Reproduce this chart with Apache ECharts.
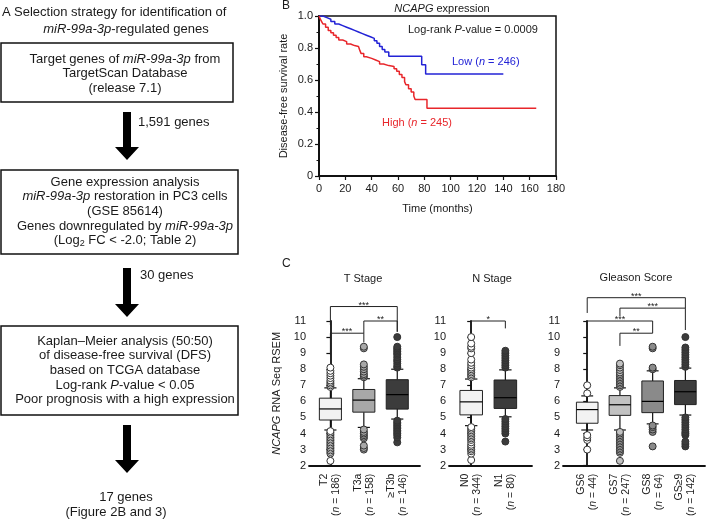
<!DOCTYPE html>
<html><head><meta charset="utf-8">
<script src="https://cdn.jsdelivr.net/npm/echarts@6/dist/echarts.min.js"></script>
<style>html,body{margin:0;padding:0;background:#fff}#c{width:709px;height:519px}</style>
</head><body><div id="c"></div>
<script>
// ---------- Panel B: Kaplan-Meier data ----------
const lowTimes  = [0,3,6,9,12,15,18,21,24,27,30,33,36,39,42,44,46,48,50,53,78,81,140];
const lowSurv   = [1.0,0.99,0.98,0.965,0.95,0.94,0.93,0.92,0.91,0.90,0.89,0.88,0.87,0.86,0.845,0.83,0.81,0.79,0.775,0.748,0.695,0.638,0.638];
const highTimes = [0,1,2,3,5,7,9,11,13,15,18,21,24,27,30,31,32,34,36,40,43,46,49,53,57,59,61,63,65,66,68,70,72,73,82,165];
const highSurv  = [1.0,0.98,0.965,0.95,0.93,0.91,0.895,0.88,0.865,0.85,0.84,0.825,0.815,0.81,0.80,0.785,0.765,0.745,0.735,0.725,0.715,0.70,0.69,0.685,0.67,0.655,0.635,0.615,0.59,0.57,0.545,0.525,0.50,0.478,0.423,0.423];
const kmXTicks = [0,20,40,60,80,100,120,140,160,180];

// ---------- Panel C: box plot data ----------
// [lower whisker, Q1, median, Q3, upper whisker]
const tCats = ['T2','T3a','\u2265T3b'];
const tN = [186,158,146];
const tStats = [[4.22,4.84,5.53,6.2,6.84],[4.38,5.33,6.08,6.74,7.41],[4.9,5.52,6.42,7.35,8.0]];
const t2Out  = [2.3,2.75,2.85,2.95,3.05,3.15,3.25,3.35,3.45,3.55,3.65,3.75,3.85,3.95,4.05,4.15,6.9,7.0,7.1,7.2,7.3,7.45,7.6,7.75,7.9,8.1];
const t3aOut = [3.0,3.1,3.25,3.7,3.8,3.9,4.0,4.1,4.25,7.5,7.6,7.7,7.85,8.0,8.15,8.3,9.3,9.4];
const t3bOut = [3.45,3.75,3.9,4.0,4.1,4.2,4.3,4.4,4.5,4.6,4.7,4.8,8.1,8.2,8.35,8.5,8.6,8.75,8.9,9.0,9.1,9.2,9.3,9.4,10.0];

const nCats = ['N0','N1'];
const nN = [344,80];
const nStats = [[4.49,5.16,5.97,6.68,7.39],[5.04,5.56,6.23,7.33,7.96]];
const n0Out = [2.35,2.75,2.9,3.0,3.1,3.2,3.3,3.45,3.6,3.7,3.8,3.9,4.0,4.1,4.2,4.3,4.4,7.5,7.6,7.7,7.8,7.9,8.0,8.1,8.25,8.4,8.6,9.0,9.3,9.4,9.6,10.0];
const n1Out = [3.5,4.0,4.15,4.3,4.45,4.6,4.75,4.9,8.1,8.25,8.4,8.55,8.7,8.85,9.0,9.15];

const gCats = ['GS6','GS7','GS8','GS\u22659'];
const gN = [44,247,64,142];
const gStats = [[4.22,4.64,5.49,5.95,6.34],[4.22,5.13,5.79,6.36,6.84],[4.6,5.3,6.0,7.27,7.9],[5.15,5.8,6.6,7.3,8.07]];
const gs6Out = [3.0,3.6,3.75,3.9,6.5,7.0];
const gs7Out = [2.3,2.8,2.9,3.0,3.1,3.2,3.3,3.4,3.5,3.6,3.7,3.8,3.9,4.0,4.1,6.9,7.0,7.1,7.2,7.3,7.4,7.5,7.6,7.7,7.8,7.95,8.1,8.25,8.35];
const gs8Out = [3.2,4.1,4.25,4.4,4.5,8.0,8.1,9.3,9.4];
const gs9Out = [3.2,3.35,3.5,3.9,4.0,4.1,4.25,4.4,4.55,4.7,4.85,5.0,8.15,8.3,8.45,8.6,8.75,8.9,9.05,9.2,9.35,10.0];

// significance brackets: [groupA, groupB, top, legA end, legB end]
const tBrackets = [[0,1,10.24,8.9,9.67],[1,2,11.0,10.24,10.33],[0,2,11.9,10.75,10.33]];
const tStars = ['***','**','***'];
const nBrackets = [[0,1,11.0,10.24,10.54]];
const nStars = ['*'];
const gBrackets = [[0,2,11.0,9.0,10.24],[1,2,10.24,9.45,10.24],[1,3,11.8,11.3,10.44],[0,3,12.45,11.5,11.8]];
const gStars = ['***','**','***','***'];

// ---------- Panel A text ----------
const box1Lines = ['Target genes of {i|miR-99a-3p} from','TargetScan Database','(release 7.1)'];
const box2Lines = ['Gene expression analysis','{i|miR-99a-3p} restoration in PC3 cells','(GSE 85614)','Genes downregulated by {i|miR-99a-3p}','(Log{s|2} FC < -2.0; Table 2)'];
const box3Lines = ['Kaplan\u2013Meier analysis (50:50)','of disease-free survival (DFS)','based on TCGA database','Log-rank {i|P}-value < 0.05','Poor prognosis with a high expression'];

const F = '"Liberation Sans", Arial, Helvetica, sans-serif';
const INK = '#1a1a1a';
const BLUE = '#2323d6';
const RED = '#e8262b';

const chart = echarts.init(document.getElementById('c'), null, {renderer:'canvas'});

function richFor(size, color){
  return {
    i:{fontStyle:'italic', fontSize:size, fontFamily:F, color:color, fill:color},
    a:{fontSize:size, fontFamily:F, color:color, fill:color},
    s:{fontSize:size-4, fontFamily:F, color:color, fill:color, verticalAlign:'bottom', padding:[6,0,0,0]}
  };
}

function txt(x, y, text, opts){
  opts = opts || {};
  const size = opts.size || 13;
  const color = opts.color || INK;
  return {type:'text', x:x, y:y, silent:true, z:10,
    style:{text:text, fontSize:size, fontFamily:F, fill:color,
      align:opts.align || 'center', verticalAlign:'middle', rich:richFor(size,color)}};
}

// ---------- graphic (panel A + annotations) ----------
const graphic = [];
graphic.push(txt(2,12,'A',{align:'left'}));
graphic.push(txt(14,12,'Selection strategy for identification of',{align:'left'}));
graphic.push(txt(126,29,'{i|miR-99a-3p}-regulated genes'));
const boxes = [[1,43,232,59,box1Lines,59],[1,170,237,84,box2Lines,182],[1,326,237,89,box3Lines,341]];
boxes.forEach(b => {
  graphic.push({type:'rect', shape:{x:b[0],y:b[1],width:b[2],height:b[3]}, style:{fill:'#fff',stroke:'#111',lineWidth:1.5}, z:5});
  b[4].forEach((l,i)=>graphic.push(txt(125, b[5]+i*14.7, l)));
});
function arrow(y0,y1){
  const cx=127, sw=4, hw=12, hl=13;
  return {type:'polygon', z:5, shape:{points:[[cx-sw,y0],[cx+sw,y0],[cx+sw,y1-hl],[cx+hw,y1-hl],[cx,y1],[cx-hw,y1-hl],[cx-sw,y1-hl]]}, style:{fill:'#000'}};
}
graphic.push(arrow(112,160));
graphic.push(arrow(268,317));
graphic.push(arrow(425,473));
graphic.push(txt(138,122,'1,591 genes',{align:'left'}));
graphic.push(txt(140,275,'30 genes',{align:'left'}));
graphic.push(txt(126,497,'17 genes'));
graphic.push(txt(116,512,'(Figure 2B and 3)'));

// panel B / C annotations
graphic.push(txt(282,6,'B',{align:'left',size:12}));
graphic.push(txt(442,9,'{i|NCAPG} expression',{size:11}));
graphic.push(txt(408,30,'Log-rank {i|P}-value = 0.0009',{align:'left',size:11}));
graphic.push(txt(452,62,'Low ({i|n} = 246)',{align:'left',size:11,color:BLUE}));
graphic.push(txt(382,123,'High ({i|n} = 245)',{align:'left',size:11,color:RED}));
graphic.push(txt(282,264,'C',{align:'left',size:12}));
graphic.push(txt(363,279,'T Stage',{size:11}));
graphic.push(txt(492,279,'N Stage',{size:11}));
graphic.push(txt(636,278,'Gleason Score',{size:11}));

// ---------- helpers for box plots ----------
function boxRender(fills){
  return function(params, api){
    const i = api.value(0);
    const lo = api.coord([i, api.value(1)]);
    const q1 = api.coord([i, api.value(2)]);
    const md = api.coord([i, api.value(3)]);
    const q3 = api.coord([i, api.value(4)]);
    const hi = api.coord([i, api.value(5)]);
    const bw = api.size([1,0])[0]*0.66;
    const cw = bw*0.55;
    const x = lo[0];
    const ls = {stroke:'#111', lineWidth:1.2};
    return {type:'group', children:[
      {type:'line', shape:{x1:x,y1:hi[1],x2:x,y2:q3[1]}, style:ls},
      {type:'line', shape:{x1:x,y1:q1[1],x2:x,y2:lo[1]}, style:ls},
      {type:'line', shape:{x1:x-cw/2,y1:hi[1],x2:x+cw/2,y2:hi[1]}, style:ls},
      {type:'line', shape:{x1:x-cw/2,y1:lo[1],x2:x+cw/2,y2:lo[1]}, style:ls},
      {type:'rect', shape:{x:x-bw/2,y:q3[1],width:bw,height:q1[1]-q3[1]}, style:{fill:fills[params.dataIndex], stroke:'#222', lineWidth:1}},
      {type:'line', shape:{x1:x-bw/2,y1:md[1],x2:x+bw/2,y2:md[1]}, style:{stroke:'#000',lineWidth:1.2}}
    ]};
  };
}
function bracketRender(stars){
  return function(params, api){
    const a = api.value(0), b = api.value(1), top = api.value(2);
    const pa = api.coord([a, api.value(3)]);
    const pat = api.coord([a, top]);
    const pbt = api.coord([b, top]);
    const pb = api.coord([b, api.value(4)]);
    return {type:'group', children:[
      {type:'polyline', shape:{points:[pa,pat,pbt,pb]}, style:{stroke:'#222', lineWidth:1, fill:null}},
      {type:'text', style:{text:stars[params.dataIndex], x:(pat[0]+pbt[0])/2, y:pat[1]+3, align:'center', verticalAlign:'bottom', fontSize:9, fontFamily:F, fill:'#222'}}
    ]};
  };
}
function boxSeries(gi, stats, fills){
  return {type:'custom', xAxisIndex:gi, yAxisIndex:gi, renderItem:boxRender(fills), clip:false, z:2,
    encode:{x:0, y:[1,2,3,4,5]}, data: stats.map((s,i)=>[i].concat(s))};
}
function outSeries(gi, idx, vals, fill){
  return {type:'scatter', xAxisIndex:gi, yAxisIndex:gi, symbol:'circle', symbolSize:7, z:4,
    itemStyle:{color:fill, borderColor:'#333', borderWidth:1, opacity:1},
    data: vals.map(v=>[idx, v])};
}
function bracketSeries(gi, br, stars){
  return {type:'custom', xAxisIndex:gi, yAxisIndex:gi, renderItem:bracketRender(stars), clip:false, z:3,
    encode:{x:[0,1], y:[2,3,4]}, data: br};
}
function catAxis(gi, min, max, cats, ns){
  return {type:'value', gridIndex:gi, min:min, max:max,
    axisLine:{show:true, onZero:false, lineStyle:{color:'#111', width:1.8}},
    axisTick:{show:false}, splitLine:{show:false},
    axisLabel:{customValues:cats.map((c,i)=>i), rotate:90, margin:8,
      formatter:function(v){const k=Math.round(v); return '{a|'+cats[k]+'}\n{a|(}{i|n}{a| = '+ns[k]+')}';},
      rich:{a:{fontSize:10.5, fontFamily:F, color:INK, lineHeight:12}, i:{fontSize:10.5, fontFamily:F, fontStyle:'italic', color:INK, lineHeight:12}}}};
}
function valAxis(gi, nameObj){
  const ax = {type:'value', gridIndex:gi, min:2, max:11, interval:1,
    axisLine:{show:true, lineStyle:{color:'#111', width:1.8}},
    axisTick:{show:true, length:4, lineStyle:{color:'#111', width:1.2}},
    splitLine:{show:false},
    axisLabel:{fontSize:11, fontFamily:F, color:INK, margin:3}};
  if(nameObj) Object.assign(ax, nameObj);
  return ax;
}

const option = {
  animation:false,
  backgroundColor:'#fff',
  textStyle:{fontFamily:F},
  graphic:graphic,
  grid:[
    {left:319, top:16, width:237, height:160, show:true, borderColor:'#111', borderWidth:1.5, backgroundColor:'transparent'},
    {left:309, top:321, width:111, height:148},
    {left:449, top:321, width:83, height:148},
    {left:563, top:321, width:142, height:148}
  ],
  xAxis:[
    {type:'value', gridIndex:0, min:0, max:180, interval:20,
      name:'Time (months)', nameLocation:'middle', nameGap:27, nameTextStyle:{fontSize:11, fontFamily:F, color:INK},
      axisLine:{lineStyle:{color:'#111', width:2}}, axisTick:{length:4, lineStyle:{color:'#111', width:1.2}},
      splitLine:{show:false}, axisLabel:{fontSize:11, fontFamily:F, color:INK, margin:7}},
    catAxis(1, -0.64, 2.68, tCats, tN),
    catAxis(2, -0.65, 1.78, nCats, nN),
    catAxis(3, -0.74, 3.6, gCats, gN)
  ],
  yAxis:[
    {type:'value', gridIndex:0, min:0, max:1, interval:0.2,
      name:'Disease-free survival rate', nameLocation:'middle', nameGap:30, nameTextStyle:{fontSize:11, fontFamily:F, color:INK},
      axisLine:{show:true, lineStyle:{color:'#111', width:2}}, axisTick:{show:true, length:4, lineStyle:{color:'#111', width:1.2}},
      minorTick:{show:true, splitNumber:2, length:2.5, lineStyle:{color:'#111', width:1}},
      splitLine:{show:false},
      axisLabel:{fontSize:11, fontFamily:F, color:INK, margin:6, formatter:function(v){return v===0?'0':v.toFixed(1);}}},
    valAxis(1, {name:'{i|NCAPG} RNA Seq RSEM', nameLocation:'middle', nameGap:27,
      nameTextStyle:{fontSize:11, fontFamily:F, color:INK, rich:{i:{fontStyle:'italic', fontSize:11, fontFamily:F, color:INK}}}}),
    valAxis(2),
    valAxis(3)
  ],
  series:[
    {type:'line', xAxisIndex:0, yAxisIndex:0, step:'end', showSymbol:false, symbol:'none',
      lineStyle:{color:BLUE, width:1.5}, itemStyle:{color:BLUE}, data: lowTimes.map((t,i)=>[t, lowSurv[i]]), z:3},
    {type:'line', xAxisIndex:0, yAxisIndex:0, step:'end', showSymbol:false, symbol:'none',
      lineStyle:{color:RED, width:1.5}, itemStyle:{color:RED}, data: highTimes.map((t,i)=>[t, highSurv[i]]), z:3},
    boxSeries(1, tStats, ['#f2f2f2','#a8a8a8','#3c3c3c']),
    outSeries(1, 0, t2Out, '#ffffff'),
    outSeries(1, 1, t3aOut, '#a8a8a8'),
    outSeries(1, 2, t3bOut, '#3c3c3c'),
    bracketSeries(1, tBrackets, tStars),
    boxSeries(2, nStats, ['#f2f2f2','#3c3c3c']),
    outSeries(2, 0, n0Out, '#ffffff'),
    outSeries(2, 1, n1Out, '#3c3c3c'),
    bracketSeries(2, nBrackets, nStars),
    boxSeries(3, gStats, ['#f2f2f2','#c2c2c2','#8a8a8a','#3c3c3c']),
    outSeries(3, 0, gs6Out, '#ffffff'),
    outSeries(3, 1, gs7Out, '#c2c2c2'),
    outSeries(3, 2, gs8Out, '#8a8a8a'),
    outSeries(3, 3, gs9Out, '#3c3c3c'),
    bracketSeries(3, gBrackets, gStars)
  ]
};
chart.setOption(option);
</script>
</body></html>
